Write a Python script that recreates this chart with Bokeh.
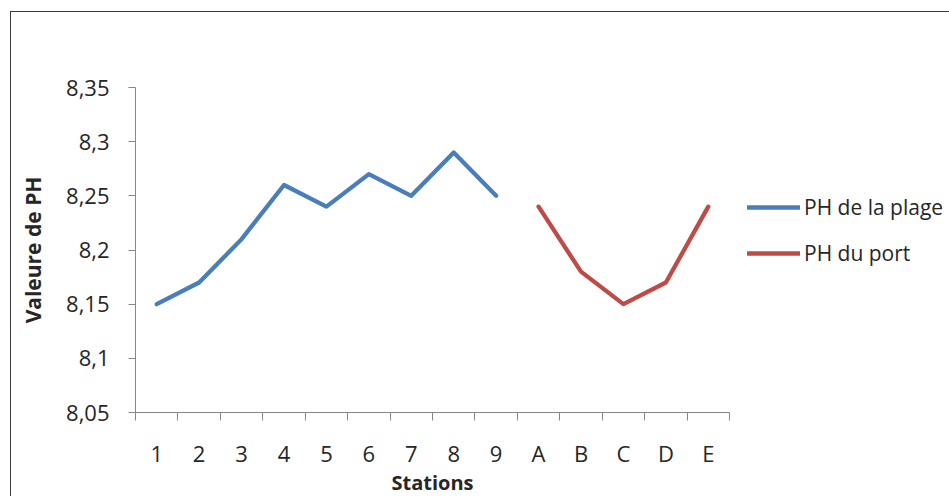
from bokeh.plotting import figure
from bokeh.models import (FactorRange, Range1d, LinearAxis, FixedTicker,
                          Legend, LegendItem, Grid)
from bokeh.embed import file_html
from bokeh.resources import INLINE

# ---- data ----
stations = ["1", "2", "3", "4", "5", "6", "7", "8", "9", "A", "B", "C", "D", "E"]
plage_stations = ["1", "2", "3", "4", "5", "6", "7", "8", "9"]
plage_ph = [8.15, 8.17, 8.21, 8.26, 8.24, 8.27, 8.25, 8.29, 8.25]
port_stations = ["A", "B", "C", "D", "E"]
port_ph = [8.24, 8.18, 8.15, 8.17, 8.24]
y_ticks = [8.05, 8.10, 8.15, 8.20, 8.25, 8.30, 8.35]
y_tick_labels = ["8,05", "8,1", "8,15", "8,2", "8,25", "8,3", "8,35"]
series_names = ["PH de la plage", "PH du port"]

FONT = "Open Sans"
TXT = "#262626"
AX = "#878787"

p = figure(frame_width=594, frame_height=325,
           x_range=FactorRange(*stations), y_range=Range1d(y_ticks[0], y_ticks[-1]),
           output_backend="svg", toolbar_location=None,
           x_axis_location=None, y_axis_location=None,
           min_border_left=124, min_border_right=218,
           min_border_top=75, min_border_bottom=84,
           margin=(11, 0, 0, 10),
           styles={"border-top": "1px solid #3a3a3a",
                   "border-left": "1px solid #3a3a3a",
                   "border-right": "1px solid #c8c8c8"})
p.outline_line_color = None
p.background_fill_color = "white"
p.border_fill_color = "white"
for r in list(p.center):
    if isinstance(r, Grid):
        p.center.remove(r)

# y axis
yax = LinearAxis(ticker=FixedTicker(ticks=y_ticks),
                 major_label_overrides=dict(zip(y_ticks, y_tick_labels)),
                 axis_label="Valeure de PH")
yax.minor_tick_line_color = None
yax.major_tick_in = 0
yax.major_tick_out = 7
yax.axis_line_color = AX
yax.major_tick_line_color = AX
yax.major_label_text_font = FONT
yax.major_label_text_font_size = "22px"
yax.major_label_text_color = TXT
yax.major_label_standoff = 19
yax.axis_label_text_font = FONT
yax.axis_label_text_font_style = "bold"
yax.axis_label_text_font_size = "21px"
yax.axis_label_text_color = TXT
yax.axis_label_standoff = 16
p.add_layout(yax, "left")

# x axis: labels at category centres, tick marks at category boundaries
n = len(stations)
centers = [i + 0.5 for i in range(n)]
bounds = [float(i) for i in range(n + 1)]
xax = LinearAxis(ticker=FixedTicker(ticks=centers, minor_ticks=bounds),
                 major_label_overrides=dict(zip(centers, stations)),
                 axis_label="Stations")
xax.major_tick_line_color = None
xax.major_tick_out = 8
xax.major_tick_in = 0
xax.minor_tick_in = 0
xax.minor_tick_out = 8
xax.minor_tick_line_color = AX
xax.axis_line_color = AX
xax.major_label_text_font = FONT
xax.major_label_text_font_size = "22px"
xax.major_label_text_color = TXT
xax.major_label_standoff = 17
xax.axis_label_text_font = FONT
xax.axis_label_text_font_style = "bold"
xax.axis_label_text_font_size = "20px"
xax.axis_label_text_color = TXT
xax.axis_label_standoff = -2
p.add_layout(xax, "below")

r1 = p.line(plage_stations, plage_ph, line_color="#4A7EBB", line_width=4.3,
            line_join="round", line_cap="round")
r2 = p.line(port_stations, port_ph, line_color="#BE4B48", line_width=4.3,
            line_join="round", line_cap="round")

legend = Legend(items=[LegendItem(label=series_names[0], renderers=[r1]),
                       LegendItem(label=series_names[1], renderers=[r2])],
                location=(18, 142))
legend.padding = 0
legend.margin = 0
legend.border_line_color = None
legend.background_fill_alpha = 0
legend.glyph_width = 53
legend.glyph_height = 34
legend.label_height = 34
legend.spacing = 12
legend.label_standoff = 4
legend.label_text_font = FONT
legend.label_text_font_size = "21px"
legend.label_text_color = TXT
p.add_layout(legend, "right")

open("out.html", "w").write(file_html(p, INLINE))
